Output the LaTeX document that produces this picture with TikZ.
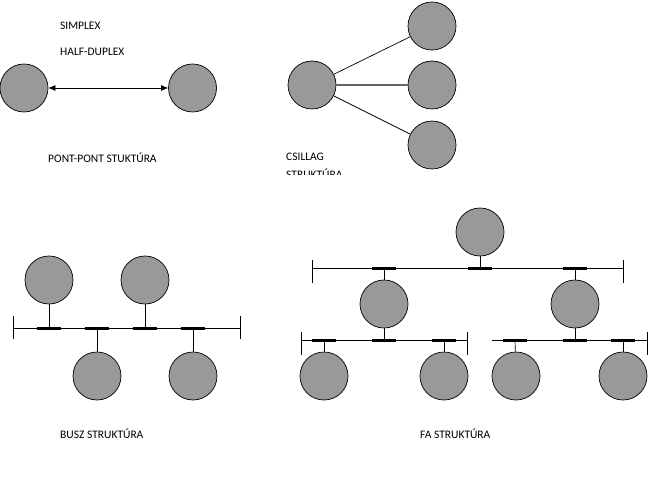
\documentclass[tikz,border=0pt]{standalone}
\usepackage{fontspec}
\setmainfont{Carlito}
\usetikzlibrary{arrows.meta}
\begin{document}
\begin{tikzpicture}[x=1pt,y=-1pt,
  station/.style={circle,draw=black,fill=black!40,minimum size=48pt,inner sep=0pt,line width=0.7pt},
  lbl/.style={anchor=west,inner sep=0pt,font=\fontsize{11.5}{13}\selectfont},
  busline/.style={line width=0.7pt},
  tap/.style={line width=3pt},
  wire/.style={line width=0.7pt}]
\useasboundingbox (0,0) rectangle (661,481);
% point-point
\node[lbl] (simplex) at (60,26) {SIMPLEX};
\node[lbl] (halfdup) at (60,52) {HALF-DUPLEX};
\node[station] (pa) at (24,88) {};
\node[station] (pb) at (192.5,88) {};
\draw[wire,{Latex[length=7pt,width=6pt]}-{Latex[length=7pt,width=6pt]}] (pa) -- (pb);
\node[lbl] (ppl) at (48,158) {PONT-PONT STUKTÚRA};
% star
\node[station] (sc) at (312,85) {};
\node[station] (s1) at (432,26) {};
\node[station] (s2) at (432,85) {};
\node[station] (s3) at (432,145) {};
\draw[wire] (sc) -- (s1);
\draw[line width=1.1pt,black!60] (sc) -- (s2);
\draw[wire] (sc) -- (s3);
\begin{scope}
\clip (270,140) rectangle (420,175);
\node[lbl] (csl) at (286,157) {CSILLAG};
\node[lbl] (csl2) at (286,174) {STRUKTÚRA};
\end{scope}
% bus
\coordinate (bl) at (13,328);
\coordinate (br) at (240,328);
\draw[busline] (bl) -- (br);
\draw[busline] ([yshift=-11pt]bl) -- ([yshift=12pt]bl);
\draw[busline] ([yshift=-11pt]br) -- ([yshift=12pt]br);
\foreach \n/\x in {1/49,2/97,3/145,4/193}{
  \coordinate (bt\n) at (\x,328);
  \draw[tap] ([xshift=-12pt]bt\n) -- ([xshift=12pt]bt\n);
}
\node[station] (b1) at (49,280) {};
\node[station] (b2) at (97,376) {};
\node[station] (b3) at (145,280) {};
\node[station] (b4) at (193,376) {};
\draw[wire] (b1) -- (bt1);
\draw[wire] (b2) -- (bt2);
\draw[wire] (b3) -- (bt3);
\draw[wire] (b4) -- (bt4);
\node[lbl] (busl) at (60,434) {BUSZ STRUKTÚRA};
% tree
\coordinate (tl) at (312,268);
\coordinate (tr) at (623,268);
\draw[busline] (tl) -- (tr);
\draw[busline] ([yshift=-15pt]tl) -- ([yshift=8pt]tl);
\draw[busline] ([yshift=-15pt]tr) -- ([yshift=8pt]tr);
\foreach \n/\x in {1/384,2/480,3/575}{
  \coordinate (tt\n) at (\x,268);
  \draw[tap] ([xshift=-12pt]tt\n) -- ([xshift=12pt]tt\n);
}
\node[station] (t0) at (480,232) {};
\node[station] (m1) at (384,304) {};
\node[station] (m2) at (575,304) {};
\draw[wire] (t0) -- (tt2);
\draw[wire] (m1) -- (tt1);
\draw[wire] (m2) -- (tt3);
% lower left bus
\coordinate (ll) at (301,340);
\coordinate (lr) at (467,340);
\draw[busline] (ll) -- (lr);
\draw[busline] ([yshift=-15pt]ll) -- ([yshift=8pt]ll);
\draw[busline] ([yshift=-15pt]lr) -- ([yshift=8pt]lr);
\foreach \n/\x in {1/324,2/384,3/444}{
  \coordinate (lt\n) at (\x,340);
  \draw[tap] ([xshift=-12pt]lt\n) -- ([xshift=12pt]lt\n);
}
% lower right bus
\coordinate (rl) at (492,340);
\coordinate (rr) at (647,340);
\draw[busline] (rl) -- (rr);
\draw[busline] ([yshift=-15pt]rr) -- ([yshift=8pt]rr);
\foreach \n/\x in {1/515,2/575,3/623}{
  \coordinate (rt\n) at (\x,340);
  \draw[tap] ([xshift=-12pt]rt\n) -- ([xshift=12pt]rt\n);
}
\draw[wire] (m1) -- (lt2);
\draw[wire] (m2) -- (rt2);
\node[station] (f1) at (324,376) {};
\node[station] (f2) at (444,376) {};
\node[station] (f3) at (516,376) {};
\node[station] (f4) at (623,376) {};
\draw[wire] (f1) -- (lt1);
\draw[wire] (f2) -- (lt3);
\draw[wire] (f3) -- (rt1);
\draw[wire] (f4) -- (rt3);
\node[lbl] (fal) at (420,434) {FA STRUKTÚRA};
\end{tikzpicture}
\end{document}
